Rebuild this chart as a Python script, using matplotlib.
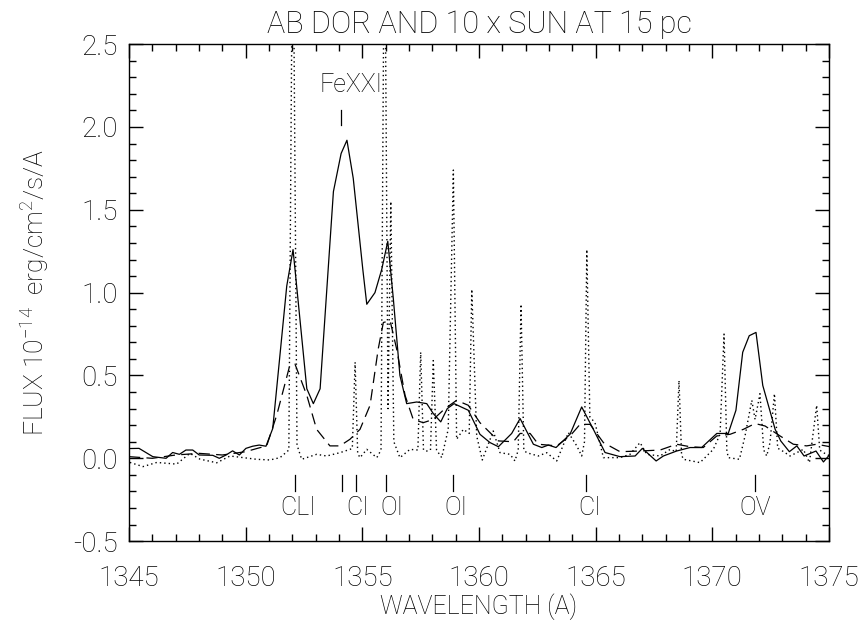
import numpy as np
import matplotlib.pyplot as plt
from matplotlib.ticker import MultipleLocator, FormatStrFormatter

plt.rcParams['font.family'] = ['Roboto', 'DejaVu Sans']
plt.rcParams['font.weight'] = 'light'
plt.rcParams['axes.titleweight'] = 'light'
plt.rcParams['axes.labelweight'] = 'light'
plt.rcParams['mathtext.fontset'] = 'custom'
plt.rcParams['mathtext.rm'] = 'Roboto:light'
plt.rcParams['mathtext.default'] = 'rm'

# AB Dor spectrum (solid)
wl_abdor = [1345.04, 1345.43, 1346.02, 1346.59, 1346.87, 1347.16, 1347.44, 1347.73,
            1348.01, 1348.59, 1348.87, 1349.16, 1349.44, 1349.73, 1350.01, 1350.30,
            1350.58, 1350.87, 1351.16, 1351.76, 1352.03, 1352.62, 1352.90, 1353.19,
            1353.76, 1354.09, 1354.34, 1354.61, 1355.02, 1355.19, 1355.54, 1355.83,
            1356.09, 1356.33, 1356.61, 1356.90, 1357.33, 1357.76, 1358.04, 1358.36,
            1358.64, 1358.93, 1359.54, 1360.04, 1360.47, 1360.83, 1361.40, 1361.76,
            1362.33, 1362.69, 1362.97, 1363.30, 1363.90, 1364.40, 1364.90, 1365.40,
            1366.04, 1366.69, 1367.00, 1367.59, 1367.90, 1368.47, 1369.04, 1369.54,
            1370.19, 1370.68, 1371.01, 1371.30, 1371.58, 1371.87, 1372.16, 1372.69,
            1372.93, 1373.30, 1373.62, 1373.93, 1374.44, 1374.76, 1375.04]
flux_abdor = [0.059, 0.06, 0.01, 0.0, 0.035, 0.024, 0.05, 0.05,
              0.02, 0.018, 0.0, 0.02, 0.045, 0.02, 0.06, 0.073,
              0.08, 0.073, 0.18, 1.04, 1.26, 0.42, 0.33, 0.42,
              1.61, 1.84, 1.92, 1.69, 1.14, 0.93, 1.0, 1.14,
              1.31, 0.96, 0.50, 0.33, 0.34, 0.33, 0.27, 0.22,
              0.30, 0.33, 0.29, 0.145, 0.095, 0.07, 0.15, 0.24,
              0.085, 0.065, 0.08, 0.065, 0.145, 0.31, 0.175, 0.035,
              0.01, 0.014, 0.06, -0.016, 0.014, 0.044, 0.065, 0.065,
              0.15, 0.15, 0.29, 0.64, 0.74, 0.76, 0.44, 0.175,
              0.105, 0.04, 0.075, 0.014, 0.044, -0.022, 0.024]

# 10 x Sun, degraded resolution (dashed)
wl_sunlow = [1345.0, 1346.0, 1347.0, 1348.0, 1349.0, 1350.0, 1350.5, 1350.90,
             1351.33, 1351.87, 1352.11, 1352.62, 1353.04, 1353.61, 1354.04, 1354.47,
             1354.90, 1355.33, 1355.68, 1355.90, 1356.19, 1356.47, 1356.83, 1357.18,
             1357.61, 1358.04, 1358.54, 1359.04, 1359.54, 1360.04, 1360.83, 1361.47,
             1361.76, 1362.19, 1362.54, 1363.33, 1363.90, 1364.33, 1364.76, 1365.33,
             1366.04, 1366.90, 1367.76, 1368.47, 1369.04, 1369.61, 1370.19, 1370.76,
             1371.33, 1371.83, 1372.26, 1372.90, 1373.47, 1374.04, 1374.47, 1375.04]
flux_sunlow = [0.01, 0.0, 0.02, 0.03, 0.02, 0.04, 0.06, 0.075,
               0.26, 0.55, 0.57, 0.38, 0.175, 0.075, 0.075, 0.115,
               0.175, 0.32, 0.66, 0.82, 0.83, 0.66, 0.38, 0.235,
               0.215, 0.235, 0.30, 0.35, 0.32, 0.215, 0.105, 0.10,
               0.15, 0.15, 0.085, 0.075, 0.135, 0.205, 0.205, 0.095,
               0.04, 0.044, 0.05, 0.085, 0.07, 0.065, 0.135, 0.145,
               0.175, 0.21, 0.195, 0.135, 0.085, 0.075, 0.085, 0.07]

# 10 x Sun, full resolution (dotted)
wl_sun = [1345.04, 1345.60, 1346.19, 1347.04, 1347.61, 1348.04, 1348.76, 1349.33,
          1349.90, 1350.47, 1351.04, 1351.47, 1351.85, 1352.02, 1352.20, 1352.40,
          1353.04, 1353.47, 1354.04, 1354.47, 1354.57, 1354.69, 1354.80, 1354.90,
          1355.19, 1355.62, 1355.80, 1355.95, 1356.10, 1356.22, 1356.35, 1356.61,
          1357.04, 1357.38, 1357.50, 1357.62, 1357.76, 1357.92, 1358.04, 1358.18,
          1358.40, 1358.68, 1358.90, 1359.04, 1359.33, 1359.58, 1359.69, 1359.90,
          1360.14, 1360.61, 1360.90, 1361.33, 1361.54, 1361.68, 1361.80, 1361.92,
          1362.04, 1362.54, 1362.90, 1363.33, 1363.83, 1364.19, 1364.40, 1364.52,
          1364.62, 1364.75, 1364.97, 1365.33, 1366.04, 1366.47, 1366.90, 1367.19,
          1367.76, 1368.19, 1368.45, 1368.57, 1368.68, 1368.76, 1369.47, 1370.04,
          1370.33, 1370.50, 1370.62, 1370.68, 1371.16, 1371.40, 1371.69, 1371.83,
          1372.04, 1372.20, 1372.33, 1372.47, 1372.66, 1372.80, 1372.90, 1373.33,
          1373.90, 1374.16, 1374.47, 1374.60, 1374.76, 1375.04]
flux_sun = [-0.025, -0.05, -0.025, -0.035, 0.03, -0.005, -0.027, 0.014,
            0.004, -0.006, -0.01, 0.004, 0.05, 3.5, 0.08, -0.006,
            0.024, 0.014, 0.034, 0.054, 0.06, 0.58, 0.03, 0.004,
            0.054, 0.004, 0.05, 3.5, 0.3, 1.55, 0.1, 0.004,
            0.054, 0.05, 0.64, 0.05, 0.044, 0.05, 0.59, 0.05,
            0.004, 0.175, 1.74, 0.115, 0.175, 0.15, 1.02, 0.135,
            -0.01, 0.165, 0.034, 0.024, -0.016, 0.05, 0.93, 0.05,
            0.034, 0.014, 0.034, -0.016, 0.155, 0.075, 0.014, 0.1,
            1.26, 0.25, 0.215, 0.004, 0.004, 0.024, 0.095, 0.024,
            0.014, 0.054, 0.04, 0.47, 0.02, -0.006, -0.026, 0.054,
            0.145, 0.75, 0.05, 0.004, -0.006, 0.135, 0.35, 0.235,
            0.39, 0.05, 0.014, 0.095, 0.39, 0.06, 0.054, 0.014,
            0.054, -0.026, 0.32, 0.05, 0.034, 0.014]

# line identifications
id_ticks = [1352.11, 1354.11, 1354.73, 1356.0, 1358.9, 1364.59, 1371.83]
id_names = ['CLI', 'CI', 'OI', 'OI', 'CI', 'OV']
id_label_pos = [1352.25, 1354.78, 1356.25, 1359.0, 1364.75, 1371.85]
fe_pos = 1354.1
fe_label_pos = 1354.5

fig = plt.figure(figsize=(8.6, 6.22), dpi=100)
ax = fig.add_axes([0.150, 0.130, 0.814, 0.799])

ax.plot(wl_abdor, flux_abdor, color='k', lw=0.9, ls='-')
ax.plot(wl_sunlow, flux_sunlow, color='k', lw=0.9, ls=(0, (9, 5)))
ax.plot(wl_sun, flux_sun, color='k', lw=1.0, ls=(0, (1, 2.2)))

for t in id_ticks:
    ax.plot([t, t], [-0.10, -0.20], color='k', lw=0.9)
for p, n in zip(id_label_pos, id_names):
    ax.text(p, -0.30, n, ha='center', va='center', fontsize=18, color='k')
ax.plot([fe_pos, fe_pos], [2.01, 2.10], color='k', lw=0.9)
ax.text(fe_label_pos, 2.255, 'FeXXI', ha='center', va='center', fontsize=18, color='k')

ax.set_xlim(1345, 1375)
ax.set_ylim(-0.5, 2.5)
ax.xaxis.set_major_locator(MultipleLocator(5))
ax.xaxis.set_minor_locator(MultipleLocator(1))
ax.yaxis.set_major_locator(MultipleLocator(0.5))
ax.yaxis.set_minor_locator(MultipleLocator(0.1))
ax.xaxis.set_major_formatter(FormatStrFormatter('%d'))
ax.yaxis.set_major_formatter(FormatStrFormatter('%.1f'))
ax.tick_params(which='both', direction='in', top=True, right=True, width=1.0)
ax.tick_params(which='major', length=10, labelsize=20)
ax.tick_params(axis='x', which='major', pad=17)
ax.tick_params(axis='y', which='major', pad=8)
ax.tick_params(which='minor', length=5)
for s in ax.spines.values():
    s.set_linewidth(1.0)

ax.set_title('AB DOR AND 10 x SUN AT 15 pc', fontsize=22, pad=8)
ax.set_xlabel('WAVELENGTH (A)', fontsize=18, labelpad=1)
ax.set_ylabel(r'FLUX 10$^{-14}$  erg/cm$^2$/s/A', fontsize=19, labelpad=16)

fig.savefig('out.png', dpi=100)
